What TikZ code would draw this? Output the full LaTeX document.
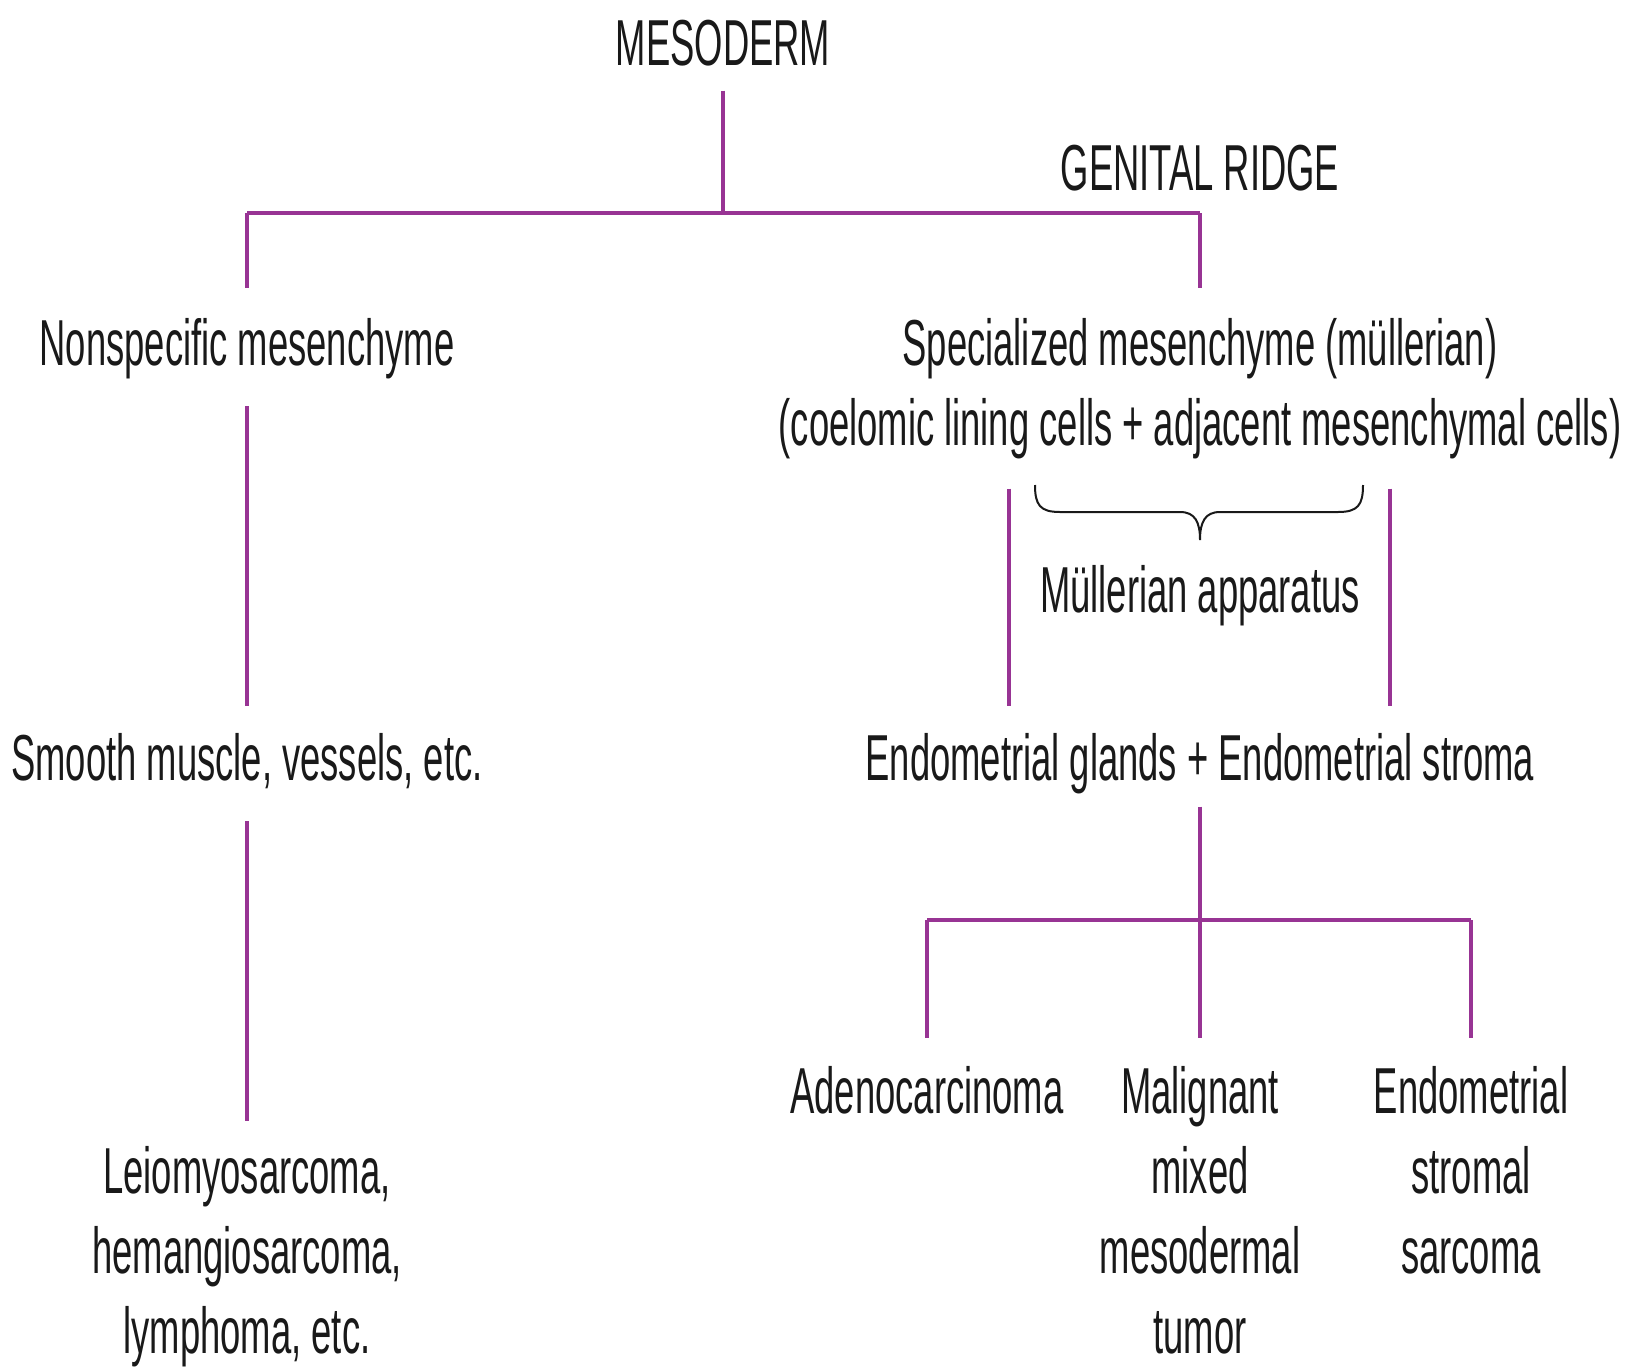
\documentclass[tikz,border=0pt]{standalone}
\usepackage{fontspec}
\setmainfont{Liberation Sans}[FakeStretch=0.56]
\definecolor{linepurple}{RGB}{152,52,148}
\definecolor{textgray}{RGB}{25,25,25}
\begin{document}
\begin{tikzpicture}[x=1pt,y=-1pt,
  lbl/.style={font=\fontsize{65}{80}\selectfont, text=textgray, inner sep=0pt, outer sep=0pt, align=center},
  conn/.style={draw=linepurple, line width=4.5pt},
  bracepath/.style={draw=textgray, line width=2pt}]
\useasboundingbox[fill=white] (0,0) rectangle (1627,1368);

% nodes
\node[lbl, anchor=base] (meso) at (723,65) {MESODERM};
\node[lbl, anchor=base] (gr) at (1200,190) {GENITAL RIDGE};
\node[lbl, anchor=base] (ns) at (247,365) {Nonspecific mesenchyme};
\node[lbl, anchor=north] (sp) at (1200,318) {Specialized mesenchyme (müllerian)\\(coelomic lining cells + adjacent mesenchymal cells)};
\node[lbl, anchor=base] (ma) at (1200,612) {Müllerian apparatus};
\node[lbl, anchor=base] (sm) at (247,780) {Smooth muscle, vessels, etc.};
\node[lbl, anchor=base] (eg) at (1200,780) {Endometrial glands + Endometrial stroma};
\node[lbl, anchor=north] (leio) at (247,1146) {Leiomyosarcoma,\\hemangiosarcoma,\\lymphoma, etc.};
\node[lbl, anchor=north] (adeno) at (927,1066) {Adenocarcinoma};
\node[lbl, anchor=north] (mmmt) at (1200,1066) {Malignant\\mixed\\mesodermal\\tumor};
\node[lbl, anchor=north] (ess) at (1471,1066) {Endometrial\\stromal\\sarcoma};

% junctions
\coordinate (j1) at (723,213);
\coordinate (j1l) at (247,213);
\coordinate (j1r) at (1200,213);
\coordinate (j2) at (1200,920);
\coordinate (j2l) at (927,920);
\coordinate (j2r) at (1471,920);

% connectors
\draw[conn] ([yshift=-25pt]meso.south) -- (j1);
\draw[conn] (j1l) -- (j1r);
\draw[conn] (j1l) -- ([yshift=30pt]ns.north);
\draw[conn] (j1r) -- ([yshift=30pt]sp.north);
\draw[conn] ([yshift=-28pt]ns.south) -- ([yshift=27pt]sm.north);
\draw[conn] ([yshift=-33pt]sm.south) -- ([yshift=25pt]leio.north);
\draw[conn] ([xshift=-191pt,yshift=-30pt]sp.south) -- ([xshift=-191pt,yshift=27pt]eg.north);
\draw[conn] ([xshift=190pt,yshift=-30pt]sp.south) -- ([xshift=190pt,yshift=27pt]eg.north);
\draw[conn] ([yshift=-13pt]eg.south) -- (j2);
\draw[conn] (j2l) -- (j2r);
\draw[conn] (j2l) -- ([yshift=28pt]adeno.north);
\draw[conn] (j2) -- ([yshift=28pt]mmmt.north);
\draw[conn] (j2r) -- ([yshift=28pt]ess.north);

% brace
\draw[bracepath] (1035,485) .. controls (1035,505) and (1040,512) .. (1060,512)
  -- (1180,512) .. controls (1195,512) and (1200,522) .. (1200,540)
  .. controls (1200,522) and (1205,512) .. (1220,512)
  -- (1338,512) .. controls (1358,512) and (1363,505) .. (1363,485);
\end{tikzpicture}
\end{document}
